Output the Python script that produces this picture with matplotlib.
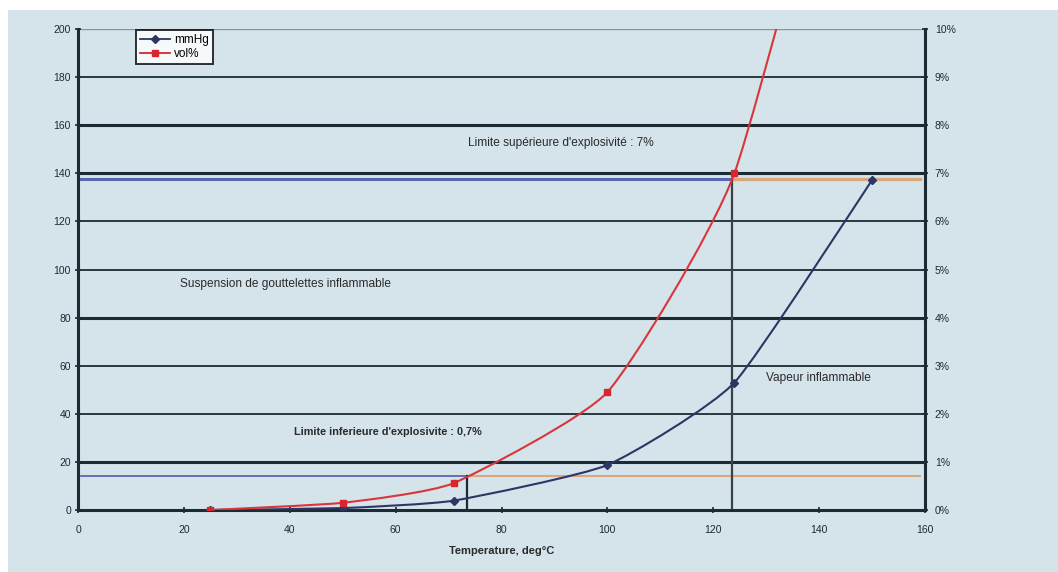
import matplotlib
matplotlib.use("Agg")
import matplotlib.pyplot as plt
from matplotlib.path import Path
from matplotlib.patches import PathPatch, Rectangle
from matplotlib.lines import Line2D
import numpy as np

plt.rcParams['font.family'] = ['Liberation Sans', 'DejaVu Sans']

# ---- data ----
temp_mmhg = [25, 50, 71, 100, 124, 150]
mmhg = [0.0, 0.8, 3.9, 18.7, 53.0, 137.2]
temp_vol = [25, 50, 71, 100, 124, 150]
vol_pct = [0.0, 0.15, 0.56, 2.45, 7.0, 17.5]

x_ticks = [0, 20, 40, 60, 80, 100, 120, 140, 160]
y_ticks = [0, 20, 40, 60, 80, 100, 120, 140, 160, 180, 200]
y2_ticks = [0, 1, 2, 3, 4, 5, 6, 7, 8, 9, 10]
y2_labels = ["0%", "1%", "2%", "3%", "4%", "5%", "6%", "7%", "8%", "9%", "10%"]

lel_mmhg = 14.0      # 0.7 %
lel_temp = 73.5
uel_mmhg = 137.5
uel_temp = 123.5
line_end = 159.0

annotations = [
    ("Limite supérieure d'explosivité : 7%", 73.7, 152.6, 'normal'),
    ("Suspension de gouttelettes inflammable", 19.3, 94.0, 'normal'),
    ("Limite inferieure d'explosivite : 0,7%", 40.8, 32.4, 'bold'),
    ("Vapeur inflammable", 129.9, 55.0, 'normal'),
]

BG = '#d5e4eb'
DARK = '#1c2a33'

fig = plt.figure(figsize=(10.58, 5.72), dpi=100)
fig.patch.set_facecolor('white')
fig.add_artist(Rectangle((8 / 1058, 0), 1, 1 - 10 / 572, transform=fig.transFigure,
                         facecolor=BG, edgecolor='none', zorder=-10))

ax = fig.add_axes([78 / 1058, 62 / 572, 847 / 1058, 481 / 572])
ax.set_facecolor(BG)
ax.set_xlim(0, 160)
ax.set_ylim(0, 200)

# horizontal grid lines
thick = {20, 80, 140, 160}
for y in y_ticks[1:]:
    if y == 200:
        ax.axhline(y, color='#8a9499', lw=1.0, zorder=1)
    elif y in thick:
        ax.axhline(y, color=DARK, lw=2.2, zorder=1)
    else:
        ax.axhline(y, color=DARK, lw=1.3, zorder=1)

# limit lines
ax.plot([0.5, lel_temp], [lel_mmhg, lel_mmhg], color='#5a67b0', lw=1.3, zorder=2)
ax.plot([lel_temp, line_end], [lel_mmhg, lel_mmhg], color='#d8a77c', lw=1.5, zorder=2)
ax.plot([0.5, uel_temp], [uel_mmhg, uel_mmhg], color='#5a67b0', lw=2.2, zorder=2)
ax.plot([uel_temp, line_end], [uel_mmhg, uel_mmhg], color='#d8a77c', lw=2.4, zorder=2)
ax.plot([lel_temp, lel_temp], [0, lel_mmhg], color=DARK, lw=1.6, zorder=2)
ax.plot([uel_temp, uel_temp], [0, uel_mmhg], color='#3a4246', lw=1.6, zorder=2)


def smooth_path(xs, ys, k=12.0):
    xs = np.asarray(xs, float)
    ys = np.asarray(ys, float)
    pts = np.column_stack([xs, ys])
    n = len(pts)
    verts = [pts[0]]
    codes = [Path.MOVETO]
    for i in range(n - 1):
        p0 = pts[i - 1] if i > 0 else pts[i]
        p1 = pts[i]
        p2 = pts[i + 1]
        p3 = pts[i + 2] if i + 2 < n else pts[i + 1]
        c1 = p1 + (p2 - p0) / k
        c2 = p2 - (p3 - p1) / k
        verts += [c1, c2, p2]
        codes += [Path.CURVE4] * 3
    return Path(verts, codes)


ax.add_patch(PathPatch(smooth_path(temp_mmhg, mmhg), facecolor='none',
                       edgecolor='#2c3566', lw=1.5, zorder=4))
ax.plot(temp_mmhg, mmhg, linestyle='none', marker='D', ms=4.5,
        color='#2c3566', zorder=5)

ax2 = ax.twinx()
ax2.set_ylim(0, 10)
ax2.add_patch(PathPatch(smooth_path(temp_vol, vol_pct), facecolor='none',
                        edgecolor='#d8363a', lw=1.5, zorder=4))
ax2.plot(temp_vol, vol_pct, linestyle='none', marker='s', ms=4.5,
         color='#d8262c', zorder=5)

sizes = [8.6, 8.6, 7.8, 8.6]
for (txt, x, y, w), fs in zip(annotations, sizes):
    ax.text(x, y, txt, fontsize=fs, color='#2a2a2a', fontweight=w,
            va='center', ha='left', zorder=6)

# axes styling
for a in (ax, ax2):
    for s in a.spines.values():
        s.set_visible(False)
ax.spines['left'].set_visible(True)
ax.spines['left'].set_color(DARK)
ax.spines['left'].set_linewidth(2.2)
ax.spines['bottom'].set_visible(True)
ax.spines['bottom'].set_color(DARK)
ax.spines['bottom'].set_linewidth(2.2)
ax2.spines['right'].set_visible(True)
ax2.spines['right'].set_color(DARK)
ax2.spines['right'].set_linewidth(2.2)

ax.set_xticks(x_ticks)
ax.set_xticklabels([str(v) for v in x_ticks])
ax.set_yticks(y_ticks)
ax.set_yticklabels([str(v) for v in y_ticks])
ax2.set_yticks(y2_ticks)
ax2.set_yticklabels(y2_labels)
ax.tick_params(axis='both', labelsize=7.5, colors=DARK, length=4, width=1.2,
               direction='inout', pad=3)
ax.tick_params(axis='x', pad=9)
ax2.tick_params(axis='y', labelsize=7.5, colors=DARK, length=4, width=1.2,
                direction='inout', pad=5)

ax.set_xlabel('Temperature, deg°C', fontsize=8, fontweight='bold',
              color='#2a2a2a', labelpad=8)

handles = [
    Line2D([], [], color='#2c3566', marker='D', ms=4.5, lw=1.3, label='mmHg'),
    Line2D([], [], color='#d8262c', marker='s', ms=4.5, lw=1.3, label='vol%'),
]
leg = ax.legend(handles=handles, loc='upper left', bbox_to_anchor=(0.068, 0.998),
                fontsize=8.5, frameon=True, fancybox=False, handlelength=2.6,
                borderpad=0.35, labelspacing=0.15, handletextpad=0.3,
                borderaxespad=0.0)
leg.get_frame().set_edgecolor('black')
leg.get_frame().set_linewidth(1.4)
leg.set_zorder(10)

fig.savefig('out.png', dpi=100, facecolor=fig.get_facecolor())
